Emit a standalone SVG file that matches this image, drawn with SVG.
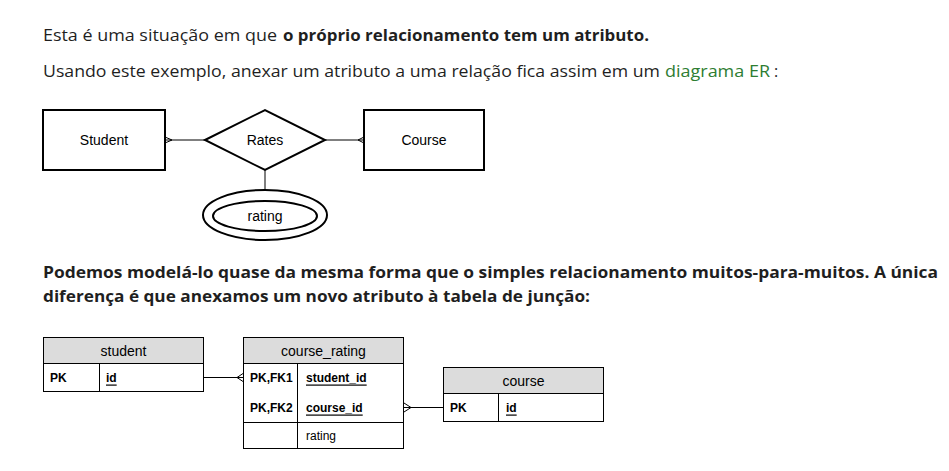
<svg xmlns="http://www.w3.org/2000/svg" width="949" height="471" viewBox="0 0 949 471">
<style>
.body{font-family:"Open Sans",Lato,"Liberation Sans",sans-serif;font-size:16px;fill:#1f1f1f}
.b{font-weight:bold}
.link{fill:#2e7d32}
.shape{fill:#fff;stroke:#000;stroke-width:2}
.lbl{font-family:"Liberation Sans",Arial,sans-serif;font-size:14px;fill:#000;text-anchor:middle;dominant-baseline:central}
.tbl{fill:#fff;stroke:#000;stroke-width:1}
.hdr{fill:#dcdcdc;stroke:#000;stroke-width:1}
.ln{stroke:#000;stroke-width:1;fill:none}
.th{font-family:"Liberation Sans",Arial,sans-serif;font-size:14px;fill:#000;text-anchor:middle;dominant-baseline:central}
.tk{font-family:"Liberation Sans",Arial,sans-serif;font-size:12px;font-weight:bold;fill:#000;dominant-baseline:central}
.tu{font-family:"Liberation Sans",Arial,sans-serif;font-size:12px;font-weight:bold;fill:#000;text-decoration:underline;dominant-baseline:central}
.tn{font-family:"Liberation Sans",Arial,sans-serif;font-size:12px;fill:#000;dominant-baseline:central}
</style>
<rect width="949" height="471" fill="#fff"/>
<g id="text">
<text class="body" x="43" y="41" textLength="234" lengthAdjust="spacingAndGlyphs">Esta é uma situação em que</text>
<text class="body b" x="283" y="41" textLength="366" lengthAdjust="spacingAndGlyphs">o próprio relacionamento tem um atributo.</text>
<text class="body" x="43" y="77" textLength="617" lengthAdjust="spacingAndGlyphs">Usando este exemplo, anexar um atributo a uma relação fica assim em um</text>
<text class="body link" x="665" y="77" textLength="105" lengthAdjust="spacingAndGlyphs">diagrama ER</text>
<text class="body" x="774" y="77">:</text>
<text class="body b" x="43" y="278" textLength="895" lengthAdjust="spacingAndGlyphs">Podemos modelá-lo quase da mesma forma que o simples relacionamento muitos-para-muitos. A única</text>
<text class="body b" x="43" y="302" textLength="547" lengthAdjust="spacingAndGlyphs">diferença é que anexamos um novo atributo à tabela de junção:</text>
</g>
<g id="connectors">
<path class="ln" d="M165,140 H205 M165,137 L172,140 L165,143"/>
<path class="ln" d="M325,140 H364 M364,137 L358,140 L364,143"/>
<path class="ln" d="M265,170 V190"/>
<path class="ln" d="M204,377.5 H243 M243,373.5 L237,377.5 L243,381.5"/>
<path class="ln" d="M404,407.5 H443 M404,403 L411,407.5 L404,412"/>
</g>
<g id="Student">
<rect class="shape" x="43" y="110" width="122" height="60"/>
<text class="lbl" x="104" y="140">Student</text>
</g>
<g id="Rates">
<polygon class="shape" points="205,140 265,110 325,140 265,170"/>
<text class="lbl" x="265" y="140">Rates</text>
</g>
<g id="Course">
<rect class="shape" x="364" y="110" width="120" height="60"/>
<text class="lbl" x="424" y="140">Course</text>
</g>
<g id="rating">
<ellipse class="shape" cx="265" cy="215" rx="62" ry="25"/>
<ellipse class="shape" cx="265" cy="216" rx="52" ry="15"/>
<text class="lbl" x="265" y="216">rating</text>
</g>
<g id="student">
<rect class="hdr" x="43.5" y="337.5" width="160" height="26"/>
<rect class="tbl" x="43.5" y="363.5" width="160" height="28"/>
<path class="ln" d="M99.5,363.5 V391.5"/>
<text class="th" x="123.5" y="350.5">student</text>
<text class="tk" x="50" y="377.5">PK</text>
<text class="tu" x="106" y="377.5">id</text>
</g>
<g id="course_rating">
<rect class="hdr" x="243.5" y="337.5" width="160" height="26"/>
<rect class="tbl" x="243.5" y="363.5" width="160" height="85"/>
<path class="ln" d="M297.5,363.5 V448.5 M243.5,422.5 H403.5"/>
<text class="th" x="323.5" y="350.5">course_rating</text>
<text class="tk" x="250" y="377.5">PK,FK1</text>
<text class="tu" x="306" y="377.5">student_id</text>
<text class="tk" x="250" y="407.5">PK,FK2</text>
<text class="tu" x="306" y="407.5">course_id</text>
<text class="tn" x="306" y="436">rating</text>
</g>
<g id="course">
<rect class="hdr" x="443.5" y="367.5" width="160" height="26"/>
<rect class="tbl" x="443.5" y="393.5" width="160" height="28"/>
<path class="ln" d="M498.5,393.5 V421.5"/>
<text class="th" x="523.5" y="380.5">course</text>
<text class="tk" x="450" y="407.5">PK</text>
<text class="tu" x="506" y="407.5">id</text>
</g>
</svg>
